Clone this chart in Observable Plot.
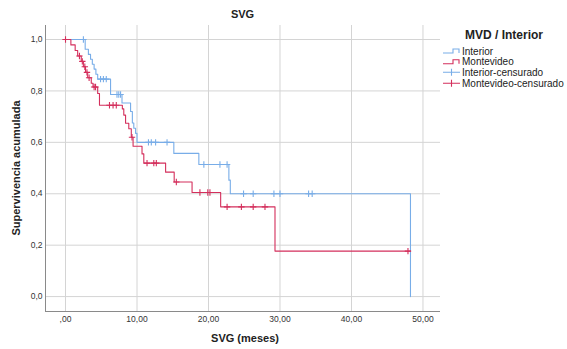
<!DOCTYPE html>
<html><head><meta charset="utf-8">
<script src="https://cdn.jsdelivr.net/npm/d3@7"></script>
<script src="https://cdn.jsdelivr.net/npm/@observablehq/plot@0.6"></script>
<style>body{margin:0;background:#fff}</style>
</head><body><div id="chart"></div><script>
// ---- data ----
const chartTitle = "SVG";
const xLabel = "SVG (meses)";
const yLabel = "Supervivencia acumulada";
const legendTitle = "MVD / Interior";
const legendLabels = ["Interior", "Montevideo", "Interior-censurado", "Montevideo-censurado"];
const xTicks = [0, 10, 20, 30, 40, 50];
const xTickLabels = [",00", "10,00", "20,00", "30,00", "40,00", "50,00"];
const yTicks = [0, 0.2, 0.4, 0.6, 0.8, 1.0];
const yTickLabels = ["0,0", "0,2", "0,4", "0,6", "0,8", "1,0"];

// Interior: step times (months) and cumulative survival after each step
const interiorTime = [0, 2.75, 3.2, 3.5, 3.75, 4.0, 4.25, 4.5, 6.3, 7.9, 9.1, 9.35, 9.55, 9.8, 10.0, 15.15, 18.65, 22.85, 23.05, 48.25];
const interiorSurv = [1.0, 0.962, 0.942, 0.923, 0.904, 0.885, 0.865, 0.846, 0.786, 0.753, 0.72, 0.675, 0.655, 0.635, 0.60, 0.557, 0.514, 0.453, 0.40, 0.0];
const interiorCensor = [2.5, 4.9, 5.3, 5.7, 7.2, 7.45, 7.7, 11.6, 12.0, 12.6, 14.2, 19.35, 21.6, 22.6, 24.9, 26.25, 29.15, 30.0, 34.0, 34.5];

// Montevideo
const montevideoTime = [0, 0.75, 1.35, 1.7, 2.2, 2.5, 2.8, 3.1, 3.6, 3.85, 4.5, 4.75, 7.95, 8.15, 8.4, 8.85, 9.2, 9.45, 10.7, 10.95, 14.0, 15.2, 17.7, 21.7, 29.3, 48.25];
const montevideoSurv = [1.0, 0.979, 0.957, 0.936, 0.915, 0.894, 0.872, 0.851, 0.83, 0.815, 0.79, 0.744, 0.73, 0.706, 0.674, 0.653, 0.62, 0.585, 0.555, 0.519, 0.484, 0.446, 0.405, 0.349, 0.177, 0.177];
const montevideoCensor = [0, 1.95, 2.35, 2.7, 3.0, 3.3, 4.0, 4.2, 6.15, 6.65, 7.1, 9.3, 11.4, 12.35, 12.7, 15.5, 18.8, 19.9, 20.2, 22.6, 24.6, 26.25, 27.9, 47.9];

const colors = {Interior: "#78ade8", Montevideo: "#d42f5c"};
const xDomain = [-2.8, 52.45];
const yDomain = [-0.058, 1.0545];

// ---- build tables ----
function stepAt(times, surv, t) { let s = surv[0]; for (let i = 0; i < times.length; i++) if (times[i] <= t) s = surv[i]; return s; }
const curves = [
  ...interiorTime.map((t, i) => ({g: "Interior", t, s: interiorSurv[i]})),
  ...montevideoTime.map((t, i) => ({g: "Montevideo", t, s: montevideoSurv[i]}))
];
const censors = [
  ...interiorCensor.map(t => ({g: "Interior", t, s: stepAt(interiorTime, interiorSurv, t)})),
  ...montevideoCensor.map(t => ({g: "Montevideo", t, s: stepAt(montevideoTime, montevideoSurv, t)}))
];
const plusSymbol = {draw(ctx, size) { const r = Math.sqrt(size / Math.PI); ctx.moveTo(-r, 0); ctx.lineTo(r, 0); ctx.moveTo(0, -r); ctx.lineTo(0, r); }};

const font = "'Liberation Sans', Arial, Helvetica, sans-serif";
const chart = Plot.plot({
  width: 567, height: 349,
  marginLeft: 45, marginRight: 127, marginTop: 25, marginBottom: 38,
  style: {fontFamily: font, fontSize: "8.5px", color: "#333", background: "#fff"},
  x: {domain: xDomain, ticks: xTicks, tickFormat: d => xTickLabels[xTicks.indexOf(d)], tickSize: 0, tickPadding: 4, label: null},
  y: {domain: yDomain, ticks: yTicks, tickFormat: d => yTickLabels[yTicks.indexOf(d)], tickSize: 0, tickPadding: 3, label: null},
  color: {domain: Object.keys(colors), range: Object.values(colors)},
  marks: [
    Plot.ruleX(xTicks, {stroke: "#d4d4d4", strokeWidth: 1}),
    Plot.ruleY(yTicks, {stroke: "#d4d4d4", strokeWidth: 1}),
    Plot.ruleX([xDomain[0]], {stroke: "#8a8a8a"}),
    Plot.ruleY([yDomain[0]], {stroke: "#8a8a8a"}),
    Plot.line(curves, {x: "t", y: "s", z: "g", stroke: "g", curve: "step-after", strokeWidth: 1.1}),
    Plot.dot(censors, {x: "t", y: "s", stroke: "g", symbol: plusSymbol, r: 3.2, fill: "none", strokeWidth: 1.1})
  ]
});
document.getElementById("chart").appendChild(chart);

// ---- titles and legend ----
const svg = d3.select(chart);
const txt = (x, y, s, size, weight, anchor) => svg.append("text").attr("x", x).attr("y", y).text(s)
  .attr("font-family", font).attr("font-size", size).attr("font-weight", weight)
  .attr("text-anchor", anchor).attr("fill", "#222");
txt(242.5, 18, chartTitle, 11, "bold", "middle");
txt(245, 342, xLabel, 11, "bold", "middle");
txt(0, 0, yLabel, 11, "bold", "middle").attr("transform", "translate(20,168) rotate(-90)");
txt(504, 39, legendTitle, 12, "bold", "middle");
const ly = [51, 61.7, 72.3, 83.3];
const lc = [colors.Interior, colors.Montevideo, colors.Interior, colors.Montevideo];
legendLabels.forEach((lab, i) => {
  const y = ly[i];
  if (i < 2) {
    svg.append("path").attr("d", `M443,${y + 2}H453V${y - 2}H459V${y + 2}`).attr("fill", "none").attr("stroke", lc[i]).attr("stroke-width", 1.1);
  } else {
    svg.append("path").attr("d", `M443,${y}H460M451.5,${y - 3.5}V${y + 3.5}`).attr("fill", "none").attr("stroke", lc[i]).attr("stroke-width", 1.1);
  }
  txt(462, y + 3.5, lab, 10, "normal", "start");
});
</script></body></html>
